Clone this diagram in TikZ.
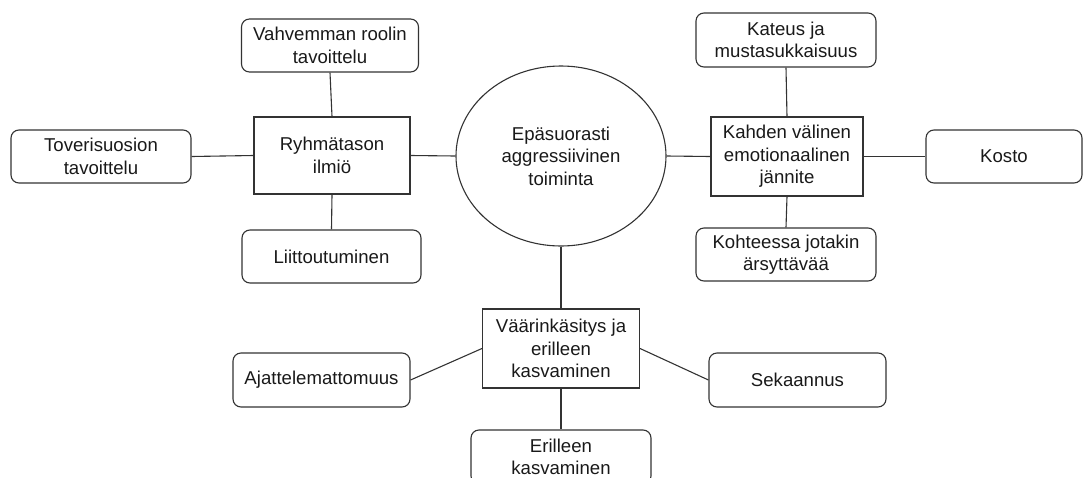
\documentclass[tikz,border=0pt]{standalone}
\usepackage{fontspec}
\setmainfont{Liberation Sans}
\usetikzlibrary{shapes.geometric}
\begin{document}
\begin{tikzpicture}[x=1pt,y=-1pt,
  every node/.style={font=\fontsize{18.6}{22.5}\selectfont, text=black!90, align=center, inner sep=0pt},
  rbox/.style={draw=black!80, line width=1.1pt, rounded corners=8pt},
  sbox/.style={draw=black!80, line width=1.1pt},
  conn/.style={draw=black!80, line width=1.1pt}]
\useasboundingbox (0,0) rectangle (1090,477);
% centre
\node[draw=black!80, line width=1.1pt, ellipse, minimum width=210pt, minimum height=180pt] (ell) at (561,156) {Epäsuorasti\\aggressiivinen\\toiminta};
% left group
\node[sbox, minimum width=156pt, minimum height=77pt] (ryhma) at (332,155.5) {Ryhmätason\\ilmiö};
\node[rbox, minimum width=177pt, minimum height=53pt] (vahv) at (330,45.5) {Vahvemman roolin\\tavoittelu};
\node[rbox, minimum width=180pt, minimum height=53pt] (tover) at (101,156.5) {Toverisuosion\\tavoittelu};
\node[rbox, minimum width=179pt, minimum height=53pt] (liitt) at (331.5,256.5) {Liittoutuminen};
% right group
\node[sbox, minimum width=152pt, minimum height=79pt] (kahden) at (787,156.5) {Kahden välinen\\emotionaalinen\\jännite};
\node[rbox, minimum width=180pt, minimum height=54pt] (kateus) at (786,40) {Kateus ja\\mustasukkaisuus};
\node[rbox, minimum width=156pt, minimum height=53pt] (kosto) at (1004,156.5) {Kosto};
\node[rbox, minimum width=180pt, minimum height=53pt] (kohde) at (786,254.5) {Kohteessa jotakin\\ärsyttävää};
% bottom group
\node[sbox, minimum width=157pt, minimum height=79pt] (vaar) at (561,348.5) {Väärinkäsitys ja\\erilleen\\kasvaminen};
\node[rbox, minimum width=177pt, minimum height=54pt] (ajat) at (321.5,380) {Ajattelemattomuus};
\node[rbox, minimum width=177pt, minimum height=54pt] (seka) at (797.5,380) {Sekaannus};
\node[rbox, minimum width=180pt, minimum height=54pt] (eril) at (561,457) {Erilleen\\kasvaminen};
% connectors
\draw[conn] (vahv.south) -- (ryhma.north);
\draw[conn] (ryhma.west) -- (tover.east);
\draw[conn] (ryhma.south) -- (liitt.north);
\draw[conn] (ryhma.east) -- (ell.west);
\draw[conn] (ell.east) -- (kahden.west);
\draw[conn] (kateus.south) -- (kahden.north);
\draw[conn] (kahden.east) -- (kosto.west);
\draw[conn] (kahden.south) -- (kohde.north);
\draw[conn] (ell.south) -- (vaar.north);
\draw[conn] (vaar.west) -- (ajat.east);
\draw[conn] (vaar.east) -- (seka.west);
\draw[conn] (vaar.south) -- (eril.north);
\end{tikzpicture}
\end{document}
